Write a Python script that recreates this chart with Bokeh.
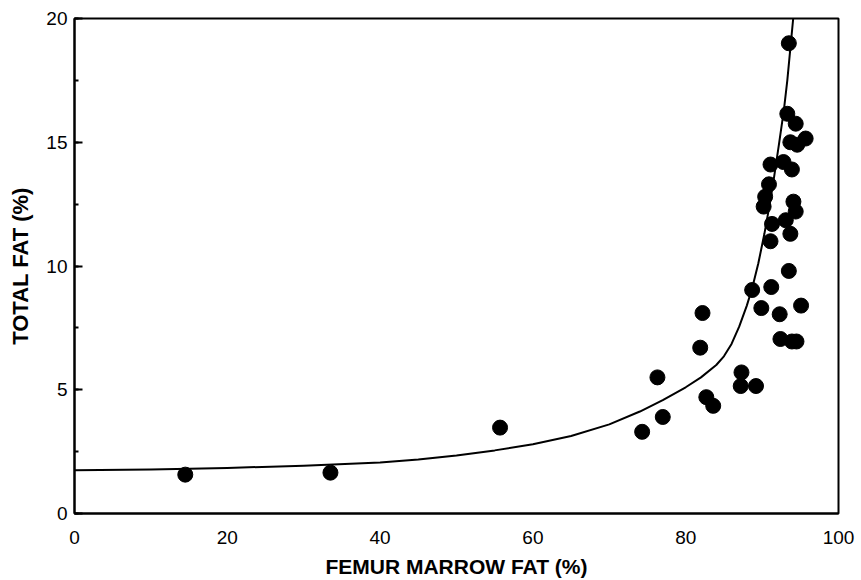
from bokeh.plotting import figure
from bokeh.models import Range1d, SingleIntervalTicker, ColumnDataSource
from bokeh.embed import file_html
from bokeh.resources import INLINE

# Scatter data: femur marrow fat (%) vs total fat (%)
marrow_fat = [14.5, 33.5, 55.7, 74.3, 77.0, 76.3, 81.9, 82.2, 82.7, 83.6,
              87.3, 87.2, 89.2, 88.7, 89.9, 91.2, 92.3, 95.1, 92.4, 93.9,
              94.5, 93.5, 91.1, 93.7, 91.3, 93.1, 94.4, 94.1, 90.2, 90.4,
              90.9, 91.1, 92.8, 93.9, 93.7, 94.6, 95.7, 94.4, 93.3, 93.5]
total_fat = [1.57, 1.65, 3.47, 3.3, 3.9, 5.5, 6.7, 8.1, 4.7, 4.35,
             5.7, 5.15, 5.15, 9.03, 8.3, 9.15, 8.05, 8.4, 7.05, 6.95,
             6.95, 9.8, 11.0, 11.3, 11.7, 11.85, 12.2, 12.6, 12.4, 12.8,
             13.3, 14.1, 14.2, 13.9, 15.0, 14.9, 15.15, 15.75, 16.15, 19.0]

# Fitted curve
curve_x = [0, 10, 20, 30, 40, 45, 50, 55, 60, 65, 70, 74, 77, 80, 82, 84,
           85, 86, 87, 88, 88.7, 89.5, 90.3, 91.0, 91.5, 92.2, 92.85, 93.3,
           93.7, 94.07]
curve_y = [1.75, 1.78, 1.84, 1.93, 2.06, 2.18, 2.34, 2.55, 2.8, 3.13, 3.6,
           4.12, 4.58, 5.1, 5.5, 6.0, 6.35, 6.85, 7.55, 8.4, 9.1, 10.1, 11.3,
           12.5, 13.45, 14.9, 16.3, 17.5, 18.8, 20.0]

x_ticks = [0, 20, 40, 60, 80, 100]
y_ticks = [0, 5, 10, 15, 20]

p = figure(width=861, height=580, output_backend="svg", toolbar_location=None,
           x_range=Range1d(0, 100), y_range=Range1d(0, 20),
           min_border_left=74, min_border_right=23, min_border_top=18,
           min_border_bottom=66)

p.grid.visible = False
p.outline_line_color = "black"
p.outline_line_width = 2
p.background_fill_color = "white"
p.border_fill_color = "white"

p.line(curve_x, curve_y, line_color="black", line_width=2, line_join="round")
src = ColumnDataSource(dict(x=marrow_fat, y=total_fat))
p.scatter("x", "y", source=src, size=15, fill_color="black", line_color="black")

font = "Liberation Sans"

p.xaxis.ticker = x_ticks
p.xaxis.major_tick_in = 0
p.xaxis.major_tick_out = 0
p.xaxis.minor_tick_in = 0
p.xaxis.minor_tick_out = 0
p.xaxis.axis_label = "FEMUR MARROW FAT (%)"

p.yaxis.ticker = SingleIntervalTicker(interval=5, num_minor_ticks=2)
p.yaxis.major_tick_in = 8
p.yaxis.major_tick_out = 0
p.yaxis.minor_tick_in = 4
p.yaxis.minor_tick_out = 0
p.yaxis.axis_label = "TOTAL FAT (%)"

for ax in (p.xaxis, p.yaxis):
    ax.axis_line_width = 2
    ax.axis_line_color = "black"
    ax.major_tick_line_width = 2
    ax.minor_tick_line_width = 2
    ax.major_label_text_font = font
    ax.major_label_text_font_size = "19px"
    ax.major_label_text_color = "black"
    ax.axis_label_text_font = font
    ax.axis_label_text_font_style = "bold"
    ax.axis_label_text_color = "black"

p.xaxis.axis_label_text_font_size = "21px"
p.yaxis.axis_label_text_font_size = "22px"
p.xaxis.major_label_standoff = 17
p.xaxis.axis_label_standoff = 8
p.yaxis.major_label_standoff = 7
p.yaxis.axis_label_standoff = 10

open("out.html", "w").write(file_html(p, INLINE))
